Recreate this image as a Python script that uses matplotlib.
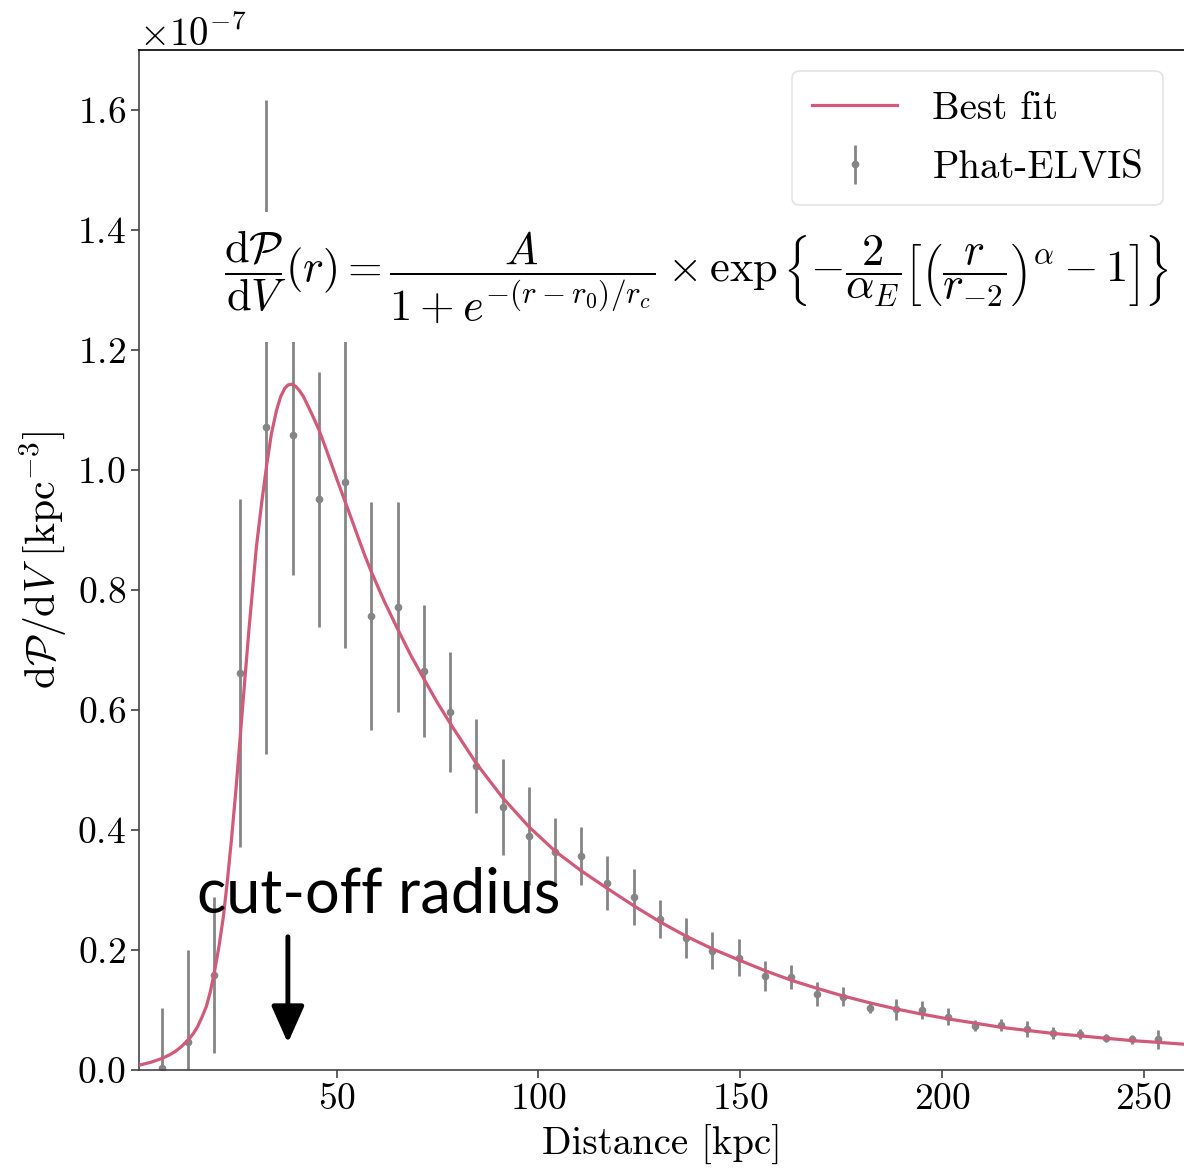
import numpy as np
import matplotlib
matplotlib.use("Agg")
import matplotlib.pyplot as plt

plt.rcParams['font.family'] = 'serif'
plt.rcParams['font.serif'] = ['cmr10']
plt.rcParams['mathtext.fontset'] = 'cm'
plt.rcParams['axes.formatter.use_mathtext'] = True
plt.rcParams['axes.unicode_minus'] = True

SCALE = 1e-7

# Phat-ELVIS binned data (values in units of 1e-7 kpc^-3)
distance = [6.6, 13.1, 19.6, 26.1, 32.6, 39.1, 45.6, 52.1, 58.6, 65.1,
            71.6, 78.1, 84.6, 91.1, 97.6, 104.1, 110.6, 117.1, 123.6, 130.1,
            136.6, 143.1, 149.6, 156.1, 162.6, 169.1, 175.6, 182.1, 188.6, 195.1,
            201.6, 208.1, 214.6, 221.1, 227.6, 234.1, 240.6, 247.1, 253.6]
density = [0.004, 0.047, 0.158, 0.662, 1.072, 1.058, 0.951, 0.980, 0.756, 0.772,
           0.665, 0.596, 0.507, 0.439, 0.390, 0.364, 0.357, 0.312, 0.288, 0.252,
           0.220, 0.199, 0.187, 0.157, 0.155, 0.127, 0.122, 0.103, 0.101, 0.100,
           0.089, 0.074, 0.075, 0.068, 0.062, 0.060, 0.053, 0.051, 0.051]
density_err = [0.100, 0.153, 0.130, 0.290, 0.545, 0.233, 0.212, 0.277, 0.190, 0.175,
               0.110, 0.100, 0.078, 0.080, 0.082, 0.056, 0.048, 0.045, 0.047, 0.032,
               0.033, 0.031, 0.031, 0.025, 0.020, 0.020, 0.016, 0.008, 0.017, 0.015,
               0.014, 0.009, 0.010, 0.013, 0.010, 0.009, 0.007, 0.008, 0.016]

# Best-fit curve (units of 1e-7 kpc^-3)
fit_r = [1.0, 4.0, 6.6, 8.5, 10.0, 11.5, 13.2, 14.5, 15.5, 16.6, 17.7, 18.7, 19.6,
         20.8, 21.9, 22.9, 23.9, 25.0, 26.0, 27.1, 28.2, 29.2, 30.1, 31.4,
         32.6, 33.8, 35.1, 36.1, 37.1, 38.0, 39.0, 39.9, 40.8, 41.7, 42.5,
         44.0, 45.6, 47.2, 48.8, 50.4, 52.1, 53.8, 55.4, 57.0, 58.6,
         61.8, 65.1, 68.3, 71.6, 74.8, 78.1, 84.6, 91.1, 97.7, 104.1, 110.6,
         117.2, 123.8, 130.1, 136.6, 143.1, 149.8, 156.4, 162.9, 169.1, 175.7,
         182.1, 188.5, 195.1, 201.7, 208.3, 214.8, 221.1, 227.5, 234.2, 240.5,
         247.1, 253.7, 260.0]
fit_p = [0.008, 0.013, 0.019, 0.025, 0.031, 0.039, 0.050, 0.061, 0.072, 0.088, 0.106, 0.131, 0.160,
         0.205, 0.255, 0.315, 0.383, 0.465, 0.548, 0.640, 0.730, 0.805, 0.872, 0.945,
         1.006, 1.060, 1.100, 1.122, 1.136, 1.142, 1.143, 1.139, 1.132, 1.123, 1.112,
         1.091, 1.067, 1.038, 1.008, 0.978, 0.947, 0.916, 0.886, 0.857, 0.830,
         0.781, 0.735, 0.692, 0.652, 0.614, 0.578, 0.511, 0.454, 0.405, 0.365, 0.332,
         0.302, 0.273, 0.247, 0.223, 0.202, 0.183, 0.165, 0.149, 0.136, 0.123,
         0.112, 0.102, 0.093, 0.085, 0.078, 0.071, 0.066, 0.061, 0.057, 0.053,
         0.049, 0.046, 0.043]

y_ticks = [0.0, 0.2, 0.4, 0.6, 0.8, 1.0, 1.2, 1.4, 1.6]
x_ticks = [50, 100, 150, 200, 250]

fig = plt.figure(figsize=(11.84, 11.69), dpi=100)
ax = fig.add_axes([139/1184, 99/1169, 1 - 139/1184, 1020/1169])

curve_color = '#d05a78'
err_color = '#858585'

ax.plot(fit_r, np.array(fit_p) * SCALE, color=curve_color, lw=2.3, label='Best fit', zorder=3)
ax.errorbar(distance, np.array(density) * SCALE, yerr=np.array(density_err) * SCALE,
            fmt='o', color=err_color, ecolor=err_color, elinewidth=2.0, markersize=4.5,
            capsize=0, label='Phat-ELVIS', zorder=2)

ax.set_xlim(1, 260)
ax.set_ylim(0, 1.7e-7)
ax.set_xticks(x_ticks)
ax.set_yticks([v * SCALE for v in y_ticks])
ax.spines['right'].set_visible(False)
ax.tick_params(axis='both', which='major', labelsize=27, direction='out', length=6, width=1.2,
               colors='#444444', labelcolor='black')
for s in ['left', 'bottom']:
    ax.spines[s].set_color('#444444')
    ax.spines[s].set_linewidth(1.2)
ax.spines['top'].set_color('black')
ax.spines['top'].set_linewidth(1.2)
ax.yaxis.get_offset_text().set_fontsize(28)

ax.set_xlabel('Distance [kpc]', fontsize=28, labelpad=6)
ax.set_ylabel(r'$\mathrm{d}\mathcal{P}/\mathrm{d}V\ [\mathrm{kpc}^{-3}]$', fontsize=30, labelpad=6)

leg = ax.legend(loc='upper right', fontsize=28, handlelength=2.2, frameon=True,
                fancybox=True, borderaxespad=0.55, handletextpad=0.9, labelspacing=0.6,
                borderpad=0.5)
leg.get_frame().set_edgecolor('#dddddd')
leg.get_frame().set_linewidth(1.2)
leg.set_zorder(10)

formula = (r'$\dfrac{\mathrm{d}\mathcal{P}}{\mathrm{d}V}(r) = \dfrac{A}{1+e^{-(r-r_0)/r_c}}'
           r'\times \exp\left\{-\dfrac{2}{\alpha_E}\left[\left(\dfrac{r}{r_{-2}}\right)^{\alpha}-1\right]\right\}$')
fig.text(0.588, 0.763, formula, fontsize=32, ha='center', va='center',
         bbox=dict(facecolor='white', edgecolor='none', pad=12), zorder=5)

ax.text(15.3, 0.263 * SCALE, 'cut-off radius', fontsize=44, family='Lato', ha='left',
        va='baseline', color='black', zorder=6)
ax.annotate('', xy=(37.9, 0.045 * SCALE), xytext=(37.9, 0.222 * SCALE),
            arrowprops=dict(arrowstyle='-|>,head_length=0.9,head_width=0.4', lw=3.5,
                            color='black', mutation_scale=25, shrinkA=0, shrinkB=0), zorder=6)

fig.savefig('out.png', dpi=100)
